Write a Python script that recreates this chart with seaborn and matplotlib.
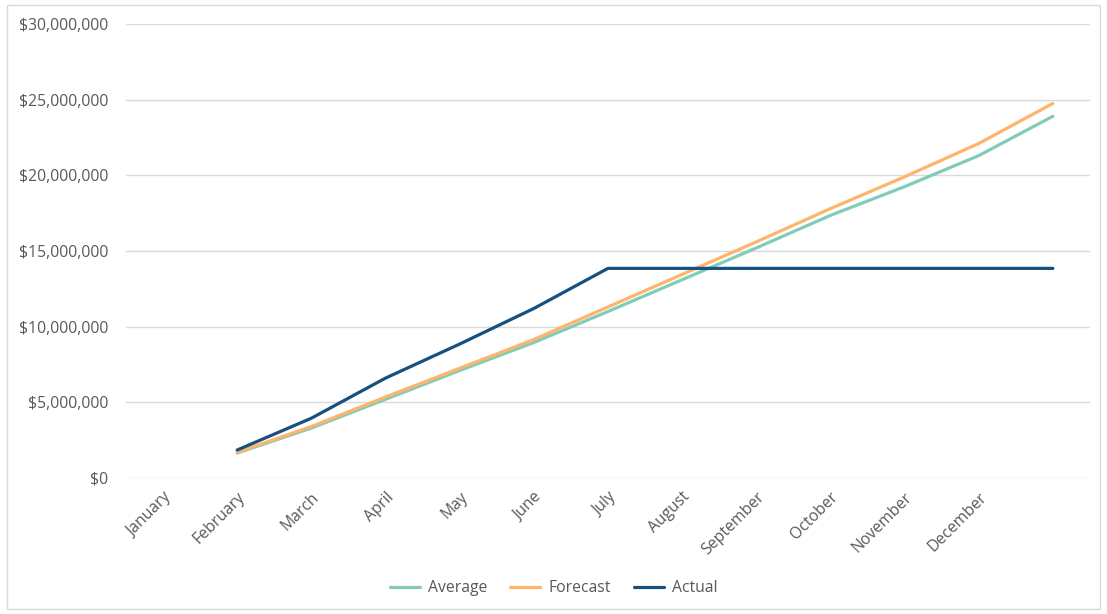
import numpy as np
import pandas as pd
import matplotlib
matplotlib.use("Agg")
import matplotlib.pyplot as plt
from matplotlib.ticker import FuncFormatter
from matplotlib.patches import Rectangle
import seaborn as sns

# Month axis labels (13 slots; values sit at the close of each month)
months = ["January", "February", "March", "April", "May", "June", "July",
          "August", "September", "October", "November", "December", ""]

# Cumulative totals, one value per month
average = [1.65e6, 3.3e6, 5.2e6, 7.1e6, 8.95e6, 11.0e6, 13.1e6,
           15.2e6, 17.35e6, 19.25e6, 21.3e6, 23.9e6]
forecast = [1.7e6, 3.4e6, 5.35e6, 7.25e6, 9.15e6, 11.3e6, 13.45e6,
            15.6e6, 17.8e6, 19.9e6, 22.1e6, 24.75e6]
actual = [1.85e6, 3.95e6, 6.6e6, 8.85e6, 11.2e6, 13.85e6, 13.85e6,
          13.85e6, 13.85e6, 13.85e6, 13.85e6, 13.85e6]

series_names = ["Average", "Forecast", "Actual"]
palette = {"Average": "#82CBBB", "Forecast": "#FDB56B", "Actual": "#15507F"}

slot = np.arange(1, len(average) + 1)
df = pd.DataFrame({
    "slot": np.tile(slot, 3),
    "value": average + forecast + actual,
    "series": np.repeat(series_names, len(slot)),
})

sns.set_theme(style="white")
plt.rcParams["font.family"] = ["Open Sans", "DejaVu Sans"]

fig = plt.figure(figsize=(11.07, 6.14), dpi=100)
ax = fig.add_axes([0.1138, 0.2215, 0.8708, 0.7395])

sns.lineplot(data=df, x="slot", y="value", hue="series", hue_order=series_names,
             palette=palette, linewidth=2.3, ax=ax, legend=True)

ax.set_xlim(-0.5, len(months) - 0.5)
ax.set_ylim(0, 30e6)
ax.set_yticks(np.arange(0, 30e6 + 1, 5e6))
ax.yaxis.set_major_formatter(FuncFormatter(lambda v, p: f"${v:,.0f}"))
ax.set_xticks(np.arange(len(months)))
ax.set_xticklabels(months, rotation=45, ha="right", rotation_mode="anchor")
ax.tick_params(axis="both", length=0, labelsize=11.3, colors="#595959")
ax.tick_params(axis="x", pad=8)
ax.tick_params(axis="y", pad=13)
ax.grid(axis="y", color="#D9D9D9", linewidth=1)
ax.set_axisbelow(True)
for s in ax.spines.values():
    s.set_visible(False)
ax.set_xlabel("")
ax.set_ylabel("")

handles, labels = ax.get_legend_handles_labels()
ax.legend(handles, labels, loc="center", bbox_to_anchor=(0.5, 0.042),
          bbox_transform=fig.transFigure, ncol=3, frameon=False,
          fontsize=11.3, labelcolor="#595959", handlelength=1.9,
          columnspacing=1.5, handletextpad=0.5)

# outer chart border
fig.patches.append(Rectangle((0.006, 0.008), 0.988, 0.984, transform=fig.transFigure,
                             fill=False, edgecolor="#D9D9D9", linewidth=1))

fig.savefig("out.png", dpi=100, facecolor="white")
